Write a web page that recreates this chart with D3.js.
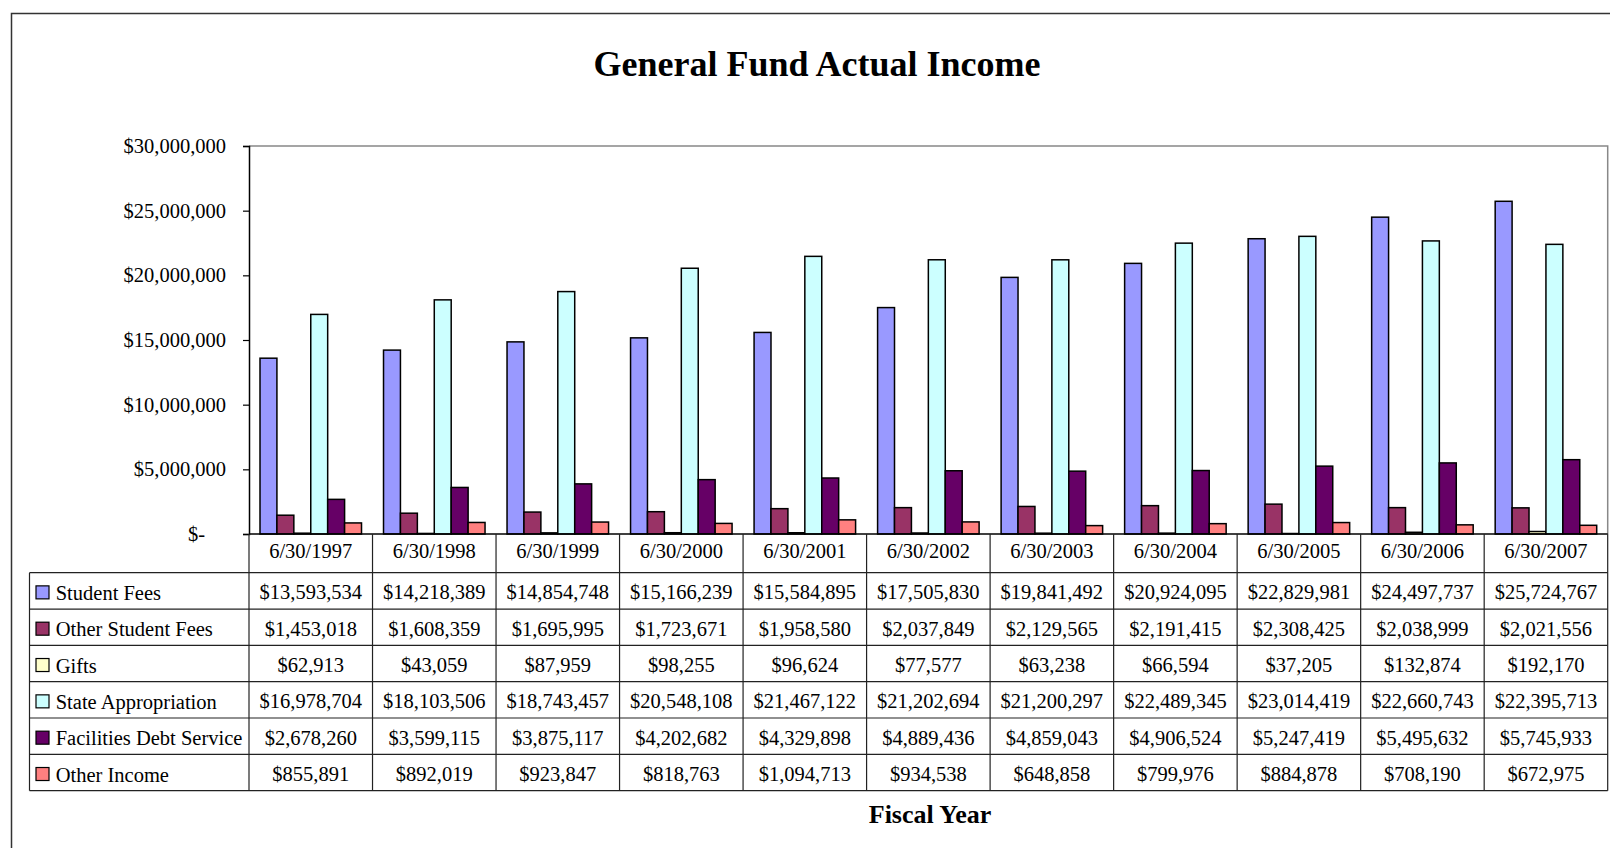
<!DOCTYPE html>
<html lang="en">
  <head>
    <meta charset="UTF-8">
    <title>General Fund Actual Income</title>
    <script src="https://d3js.org/d3.v7.min.js"></script>
    <style>
      * {
        margin: 0;
        padding: 0;
      }
      body {
        background: #fff;
      }
      body > svg {
        display: block;
      }
    </style>
  </head>
  <body>
    <script>
      // fiscal years (categories)
      var years = ["6/30/1997", "6/30/1998", "6/30/1999", "6/30/2000", "6/30/2001", "6/30/2002",
                   "6/30/2003", "6/30/2004", "6/30/2005", "6/30/2006", "6/30/2007"];

      // series values
      var studentFees = [13593534, 14218389, 14854748, 15166239, 15584895, 17505830,
                         19841492, 20924095, 22829981, 24497737, 25724767];
      var otherStudentFees = [1453018, 1608359, 1695995, 1723671, 1958580, 2037849,
                              2129565, 2191415, 2308425, 2038999, 2021556];
      var gifts = [62913, 43059, 87959, 98255, 96624, 77577,
                   63238, 66594, 37205, 132874, 192170];
      var stateAppropriation = [16978704, 18103506, 18743457, 20548108, 21467122, 21202694,
                                21200297, 22489345, 23014419, 22660743, 22395713];
      var facilitiesDebt = [2678260, 3599115, 3875117, 4202682, 4329898, 4889436,
                            4859043, 4906524, 5247419, 5495632, 5745933];
      var otherIncome = [855891, 892019, 923847, 818763, 1094713, 934538,
                         648858, 799976, 884878, 708190, 672975];

      var seriesNames = ["Student Fees", "Other Student Fees", "Gifts", "State Appropriation",
                         "Facilities Debt Service", "Other Income"];
      var seriesColors = ["#9999ff", "#993366", "#ffffcc", "#ccffff", "#660066", "#ff8080"];
      var yTicks = [0, 5000000, 10000000, 15000000, 20000000, 25000000, 30000000];

      var series = [studentFees, otherStudentFees, gifts, stateAppropriation, facilitiesDebt, otherIncome]
        .map(function (vals, i) { return { name: seriesNames[i], color: seriesColors[i], values: vals }; });

      var width = 1610;
      var height = 848;
      var font = "'Liberation Serif', 'Times New Roman', serif";

      var plotL = 249, plotR = 1607.7, plotT = 146, plotB = 534;
      var tableL = 29.5, headerB = 572.7, rowH = 36.33;

      var svg = d3.select("body").append("svg")
        .attr("width", width)
        .attr("height", height)
        .style("font-family", font);

      // outer chart border (runs off the right and bottom edges)
      svg.append("rect")
        .attr("x", 11.5).attr("y", 13.5)
        .attr("width", 1700).attr("height", 900)
        .attr("fill", "#fff")
        .attr("stroke", "#333")
        .attr("stroke-width", 1.5);

      svg.append("text")
        .attr("x", 817).attr("y", 76)
        .attr("text-anchor", "middle")
        .attr("font-size", "36px")
        .attr("font-weight", "bold")
        .text("General Fund Actual Income");

      var x0 = d3.scaleBand().domain(years).range([plotL, plotR]).padding(0);
      var x1 = d3.scaleBand().domain(seriesNames).range([11, x0.bandwidth() - 11]).padding(0);
      var y = d3.scaleLinear().domain([0, 30000000]).range([plotB, plotT]);

      // plot area border
      svg.append("path")
        .attr("d", "M" + plotL + "," + plotT + "H" + plotR + "V" + plotB)
        .attr("fill", "none")
        .attr("stroke", "#888")
        .attr("stroke-width", 1.5);

      // bars
      var groups = svg.selectAll(".year")
        .data(years)
        .enter().append("g")
        .attr("class", "year")
        .attr("transform", function (d) { return "translate(" + x0(d) + ",0)"; });

      groups.selectAll("rect")
        .data(function (d, i) {
          return series.map(function (s) { return { name: s.name, color: s.color, value: s.values[i] }; });
        })
        .enter().append("rect")
        .attr("x", function (d) { return x1(d.name); })
        .attr("width", x1.bandwidth())
        .attr("y", function (d) { return y(d.value); })
        .attr("height", function (d) { return plotB - y(d.value); })
        .attr("fill", function (d) { return d.color; })
        .attr("stroke", "#000")
        .attr("stroke-width", 1.5);

      // y axis
      var fmt = d3.format(",");
      var yAxis = svg.append("g")
        .attr("transform", "translate(" + plotL + ",0)")
        .call(d3.axisLeft(y)
          .tickValues(yTicks)
          .tickSize(6)
          .tickPadding(17)
          .tickFormat(function (d) { return d === 0 ? "$-" : "$" + fmt(d); }));
      yAxis.select(".domain").attr("stroke", "#000").attr("stroke-width", 1.5);
      yAxis.selectAll(".tick line").attr("stroke", "#000").attr("stroke-width", 1.2);
      yAxis.selectAll(".tick text")
        .attr("font-family", font)
        .attr("font-size", "20.5px")
        .attr("fill", "#000")
        .filter(function (d) { return d === 0; })
        .attr("dx", -21);

      // zero line
      svg.append("line")
        .attr("x1", plotL).attr("x2", plotR)
        .attr("y1", plotB).attr("y2", plotB)
        .attr("stroke", "#000").attr("stroke-width", 1.5);

      // data table
      var table = svg.append("g")
        .attr("stroke", "#222")
        .attr("stroke-width", 1.2);
      var rowY = d3.range(seriesNames.length + 1).map(function (i) { return headerB + i * rowH; });
      var tableB = rowY[rowY.length - 1];

      table.selectAll(".hline")
        .data(rowY)
        .enter().append("line")
        .attr("x1", tableL).attr("x2", plotR)
        .attr("y1", function (d) { return d; }).attr("y2", function (d) { return d; });

      var colX = years.map(function (d) { return x0(d); }).concat([plotR]);
      table.selectAll(".vline")
        .data(colX)
        .enter().append("line")
        .attr("x1", function (d) { return d; }).attr("x2", function (d) { return d; })
        .attr("y1", plotB).attr("y2", tableB);

      table.append("line")
        .attr("x1", tableL).attr("x2", tableL)
        .attr("y1", headerB).attr("y2", tableB);

      // category labels
      svg.selectAll(".cat")
        .data(years)
        .enter().append("text")
        .attr("x", function (d) { return x0(d) + x0.bandwidth() / 2; })
        .attr("y", (plotB + headerB) / 2 + 4.5)
        .attr("text-anchor", "middle")
        .attr("font-size", "20.5px")
        .text(function (d) { return d; });

      // legend keys + values
      series.forEach(function (s, i) {
        var cy = rowY[i] + rowH / 2;
        svg.append("rect")
          .attr("x", 36).attr("y", cy - 5)
          .attr("width", 13).attr("height", 13)
          .attr("fill", s.color)
          .attr("stroke", "#000")
          .attr("stroke-width", 1.2);
        svg.append("text")
          .attr("x", 55.7).attr("y", cy + 9)
          .attr("font-size", "20.5px")
          .text(s.name);
        svg.selectAll(".v" + i)
          .data(s.values)
          .enter().append("text")
          .attr("x", function (d, j) { return x0(years[j]) + x0.bandwidth() / 2; })
          .attr("y", cy + 8.5)
          .attr("text-anchor", "middle")
          .attr("font-size", "20.5px")
          .text(function (d) { return "$" + fmt(d); });
      });

      svg.append("text")
        .attr("x", 930).attr("y", 822.7)
        .attr("text-anchor", "middle")
        .attr("font-size", "26px")
        .attr("font-weight", "bold")
        .text("Fiscal Year");
    </script>
  </body>
</html>
